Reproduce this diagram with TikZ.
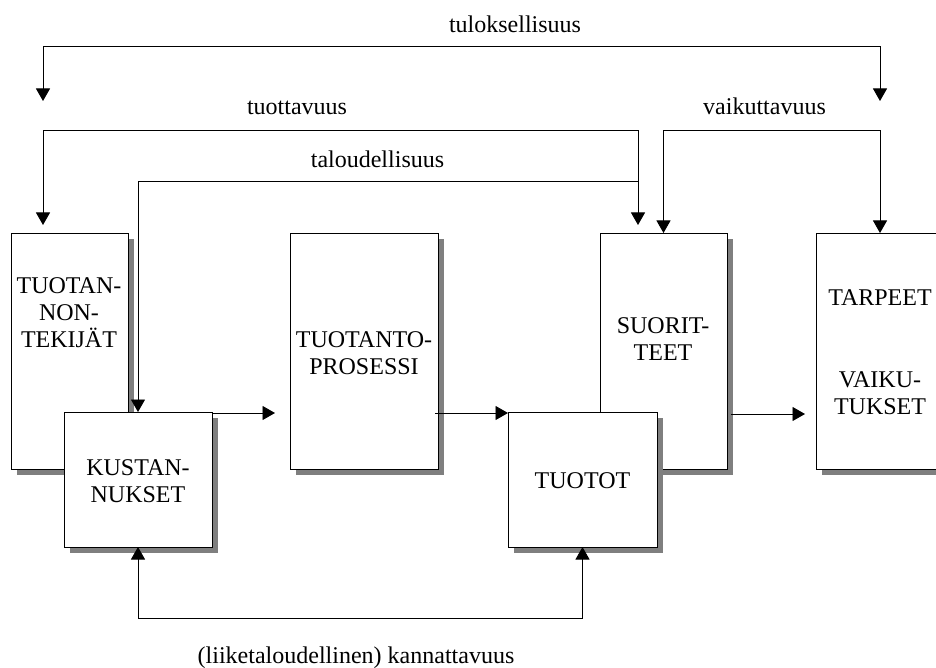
\documentclass[tikz,border=0pt]{standalone}
\usepackage{fontspec}
\setmainfont{Liberation Serif}
\usetikzlibrary{arrows.meta,shadows}
\definecolor{shadowgray}{HTML}{7F7F7F}
\begin{document}
\begin{tikzpicture}[x=1pt,y=-1pt,
  box/.style={draw=black, fill=white, line width=0.9pt, inner sep=0pt, outer sep=0pt,
    general shadow={fill=shadowgray, draw=none, shadow xshift=6pt, shadow yshift=-6pt}},
  lbl/.style={font=\fontsize{24}{26.7}\selectfont, inner sep=0pt, outer sep=0pt, align=center},
  conn/.style={line width=0.9pt, draw=black},
  arr/.style={conn, -{Triangle[length=12.5pt,width=14pt]}},
  barr/.style={conn, {Triangle[length=12.5pt,width=14pt]}-{Triangle[length=12.5pt,width=14pt]}}
]
\path[use as bounding box, clip] (0,0) rectangle (936,668);

% boxes
\node[box, minimum width=117pt, minimum height=236pt] (tt) at (69.5,351) {};
\node[box, minimum width=148pt, minimum height=135pt] (ku) at (138,479.5) {};
\node[box, minimum width=148pt, minimum height=236pt] (tp) at (364,351) {};
\node[box, minimum width=127pt, minimum height=236pt] (su) at (663.5,351) {};
\node[box, minimum width=149pt, minimum height=135pt] (to) at (582.5,479.5) {};
\node[box, minimum width=128pt, minimum height=236pt] (ta) at (880,351) {};

% box texts
\node[lbl, anchor=north] (ttt) at (69,278) {TUOTAN-\\NON-\\TEKIJÄT};
\node[lbl, anchor=north] (kut) at (138,460) {KUSTAN-\\NUKSET};
\node[lbl, anchor=north] (tpt) at (364,332) {TUOTANTO-\\PROSESSI};
\node[lbl, anchor=north] (sut) at (663,318) {SUORIT-\\TEET};
\node[lbl, anchor=north] (tot) at (582.5,473) {TUOTOT};
\node[lbl, anchor=north] (tat) at (880,290) {TARPEET\\[55.3pt]VAIKU-\\TUKSET};

% connector labels
\node[lbl, anchor=base] (l1) at (515,33) {tuloksellisuus};
\node[lbl, anchor=base] (l2) at (297,115) {tuottavuus};
\node[lbl, anchor=base] (l3) at (377.5,168) {taloudellisuus};
\node[lbl, anchor=base] (l4) at (764.5,115) {vaikuttavuus};
\node[lbl, anchor=base] (l5) at (356,663) {(liiketaloudellinen) kannattavuus};

% free ends and corners
\coordinate (tulL) at (43,101);
\coordinate (tulR) at (880,101);
\coordinate (tuoL) at (43,225);
\coordinate (tuoR) at (638,225);
\coordinate (tuoJ) at (638,130);
\coordinate (talJ) at (638,181);
\coordinate (kuR) at (212,413);
\coordinate (tpIn) at (275,413);
\coordinate (tpR) at (435,413);
\coordinate (toIn) at (508,413);
\coordinate (suR) at (731,414);
\coordinate (taIn) at (805,414);

% tuloksellisuus
\draw[barr] (tulL) -- (43,46) -- (880,46) -- (tulR);
% tuottavuus
\draw[barr] (tuoL) -- (43,130) -- (tuoJ) -- (tuoR);
% taloudellisuus
\draw[arr] (talJ) -- (138,181) -- (ku.north);
% vaikuttavuus
\draw[barr] (su.north) -- (663.5,130) -- (880,130) -- (ta.north);
% flow arrows
\draw[arr] (kuR) -- (tpIn);
\draw[arr] (tpR) -- (toIn);
\draw[arr] (suR) -- (taIn);
% kannattavuus
\draw[barr] (ku.south) -- (138,618) -- (582.5,618) -- (to.south);
\end{tikzpicture}
\end{document}
